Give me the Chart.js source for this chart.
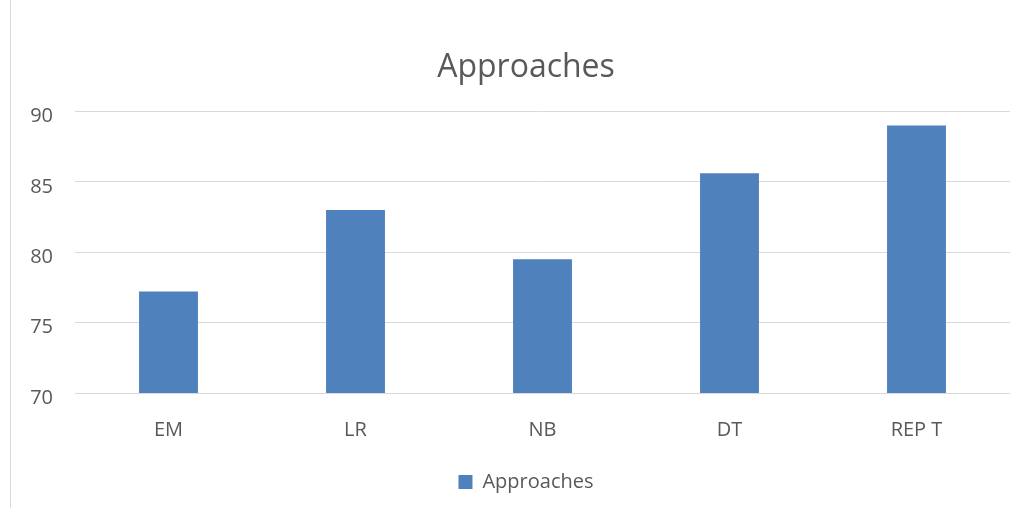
<!DOCTYPE html>
<html>
<head>
<meta charset="utf-8">
<script src="https://cdn.jsdelivr.net/npm/chart.js@4"></script>
<style>
  html, body { margin: 0; padding: 0; background: #fff; }
  #wrap { width: 1027px; height: 508px; position: relative; }
</style>
</head>
<body>
<div id="wrap"><canvas id="chart"></canvas></div>
<script>
var categories = ['EM', 'LR', 'NB', 'DT', 'REP T'];
var approaches = [77.2, 83.0, 79.5, 85.6, 89.0];
var yTicks = [70, 75, 80, 85, 90];

var textColor = '#595959';
var gridColor = '#d9d9d9';
var tickFont = { family: 'Open Sans', size: 20 };

// thin frame line down the left edge
var frameLine = {
  id: 'frameLine',
  beforeDraw: function(chart) {
    var ctx = chart.ctx;
    ctx.save();
    ctx.strokeStyle = gridColor;
    ctx.lineWidth = 1;
    ctx.beginPath();
    ctx.moveTo(10.5, 0);
    ctx.lineTo(10.5, chart.height);
    ctx.stroke();
    ctx.restore();
  }
};

// y labels sit a little below their gridlines
var yLabels = {
  id: 'yLabels',
  afterDraw: function(chart) {
    var ctx = chart.ctx;
    var y = chart.scales.y;
    ctx.save();
    ctx.fillStyle = textColor;
    ctx.font = tickFont.size + 'px "' + tickFont.family + '"';
    ctx.textAlign = 'right';
    ctx.textBaseline = 'middle';
    yTicks.forEach(function(v) {
      ctx.fillText(String(v), 53, y.getPixelForValue(v) + 5);
    });
    ctx.restore();
  }
};

var ctx = document.getElementById('chart').getContext('2d');
var myChart = new Chart(ctx, {
  type: 'bar',
  data: {
    labels: categories,
    datasets: [{
      label: 'Approaches',
      data: approaches,
      backgroundColor: '#4f81bd',
      borderWidth: 0,
      barPercentage: 0.315,
      categoryPercentage: 1
    }]
  },
  options: {
    responsive: true,
    maintainAspectRatio: false,
    animation: false,
    layout: { padding: { top: 10, right: 17, bottom: 6, left: 42 } },
    plugins: {
      title: {
        display: true,
        text: 'Approaches',
        color: textColor,
        font: { family: 'Open Sans', size: 32, weight: 'normal' },
        padding: { top: 39, bottom: 24 }
      },
      legend: {
        position: 'bottom',
        labels: {
          color: textColor,
          font: tickFont,
          boxWidth: 14,
          boxHeight: 14,
          padding: 5
        }
      },
      tooltip: { enabled: false }
    },
    scales: {
      x: {
        grid: { display: false, drawTicks: false },
        border: { display: false },
        ticks: {
          color: textColor,
          font: tickFont,
          padding: 25
        }
      },
      y: {
        min: 70,
        max: 90,
        afterFit: function(scale) { scale.width = 33; },
        afterBuildTicks: function(scale) {
          scale.ticks = yTicks.map(function(v) { return { value: v }; });
        },
        grid: { color: gridColor, lineWidth: 1, drawTicks: false },
        border: { display: false },
        ticks: { display: false }
      }
    }
  },
  plugins: [frameLine, yLabels]
});
</script>
</body>
</html>
